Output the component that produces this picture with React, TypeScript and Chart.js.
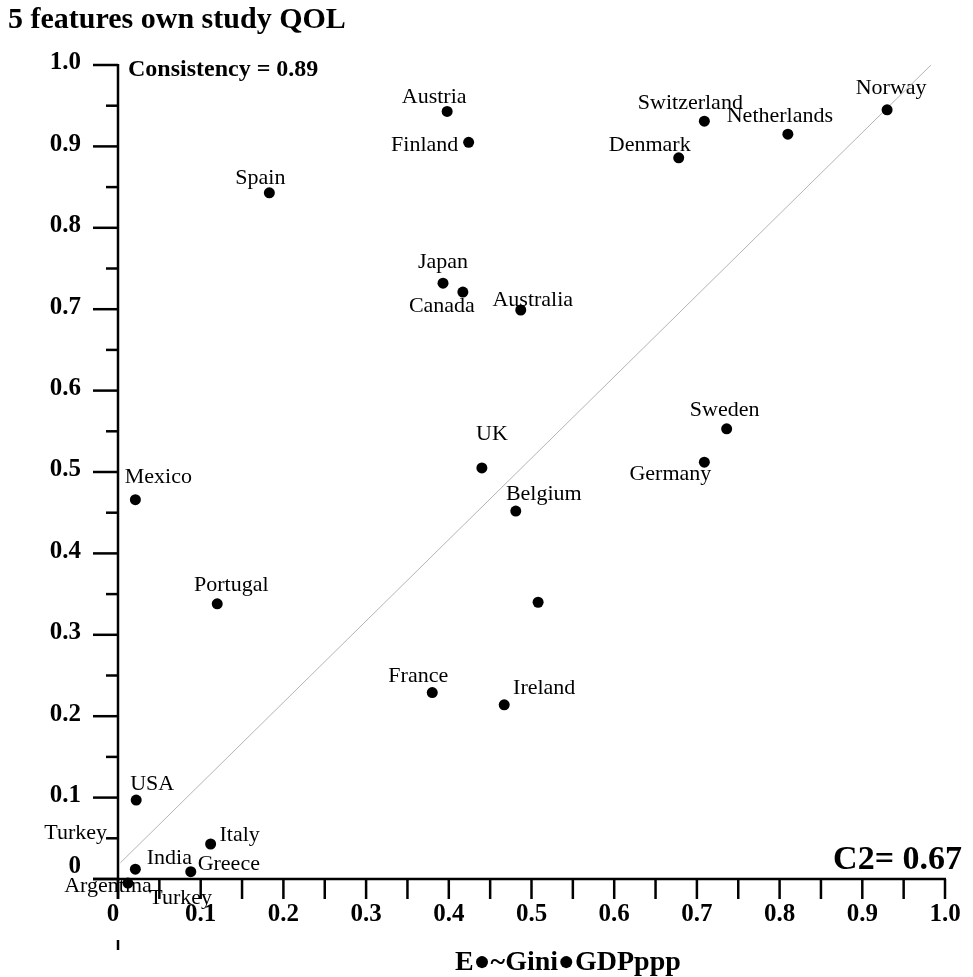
import { useEffect, useRef } from "react";
import { Chart, registerables } from "chart.js";

Chart.register(...registerables);

// ---- data ----
const countries = [
  "Norway", "Netherlands", "Switzerland", "Denmark", "Austria", "Finland", "Spain",
  "Japan", "Canada", "Australia", "Sweden", "Germany", "UK", "Belgium", "",
  "Mexico", "Portugal", "France", "Ireland", "USA", "Italy", "India", "Greece",
  "Argentina", "Turkey",
];
const xValues = [
  0.930, 0.810, 0.709, 0.678, 0.398, 0.424, 0.183,
  0.393, 0.417, 0.487, 0.736, 0.709, 0.440, 0.481, 0.508,
  0.021, 0.120, 0.380, 0.467, 0.022, 0.112, 0.021, 0.088,
  0.012, 0.025,
];
const yValues = [
  0.945, 0.915, 0.931, 0.886, 0.943, 0.905, 0.843,
  0.732, 0.721, 0.699, 0.553, 0.512, 0.505, 0.452, 0.340,
  0.466, 0.338, 0.229, 0.214, 0.097, 0.043, 0.012, 0.009,
  -0.005, -0.009,
];
const fitLineX = [0.003, 0.983];
const fitLineY = [0.02, 1.0];

const majorTicks = [0, 0.1, 0.2, 0.3, 0.4, 0.5, 0.6, 0.7, 0.8, 0.9, 1.0];
const majorTickLabels = ["0", "0.1", "0.2", "0.3", "0.4", "0.5", "0.6", "0.7", "0.8", "0.9", "1.0"];
const minorTicks = [0.05, 0.15, 0.25, 0.35, 0.45, 0.55, 0.65, 0.75, 0.85, 0.95];

const titleText = "5 features own study QOL";
const consistencyText = "Consistency = 0.89";
const c2Text = "C2= 0.67";
const xAxisTitle = "E\u25CF~Gini\u25CFGDPppp";

// label placement (pixel offsets of label centre from its point)
const labelOffsets: [number, number, number][] = [
  // [pointIndex, dx, dy]
  [0, 4, -22], [1, -8, -18], [2, -14, -18], [3, -29, -13], [4, -13, -14],
  [5, -44, 3], [6, -9, -15], [7, 0, -21], [8, -21, 14], [9, 12, -10],
  [10, -2, -19], [11, -34, 12], [12, 10, -34], [13, 28, -17],
  [15, 23, -22], [16, 14, -19], [17, -14, -16], [18, 40, -17], [19, 16, -16],
  [20, 29, -9], [21, 34, -11], [22, 38, -7], [23, -20, 3], [24, 42, 12],
  [24, -63, -53],
];

const SERIF = '"Liberation Serif", "Times New Roman", serif';

const overlayPlugin = {
  id: "overlay",
  beforeDatasetsDraw(chart: any) {
    const ctx: CanvasRenderingContext2D = chart.ctx;
    const xs = chart.scales.x;
    const ys = chart.scales.y;
    const x0 = xs.getPixelForValue(0);
    const x1 = xs.getPixelForValue(1);
    const y0 = ys.getPixelForValue(0);
    const y1 = ys.getPixelForValue(1);
    const line = (ax: number, ay: number, bx: number, by: number) => {
      ctx.beginPath();
      ctx.moveTo(ax, ay);
      ctx.lineTo(bx, by);
      ctx.stroke();
    };
    ctx.save();
    ctx.strokeStyle = "#000";
    ctx.lineWidth = 2.5;
    ctx.lineCap = "butt";
    // axes
    line(x0, y1 - 1, x0, y0 + 20);
    line(x0 - 25, y0, x1 + 1, y0);
    line(x0, y0 + 61, x0, y0 + 71);
    // y ticks
    majorTicks.forEach((v) => {
      const y = ys.getPixelForValue(v);
      line(x0 - 25, y, x0, y);
    });
    minorTicks.forEach((v) => {
      const y = ys.getPixelForValue(v);
      line(x0 - 12, y, x0, y);
    });
    // x ticks
    [...majorTicks, ...minorTicks].forEach((v) => {
      const x = xs.getPixelForValue(v);
      line(x, y0, x, y0 + 20);
    });

    // tick labels
    ctx.fillStyle = "#000";
    ctx.font = `bold 25px ${SERIF}`;
    ctx.textBaseline = "middle";
    ctx.textAlign = "right";
    majorTicks.forEach((v, i) => {
      const y = ys.getPixelForValue(v);
      ctx.fillText(majorTickLabels[i], 81, v === 0 ? y - 12 : y - 2);
    });
    ctx.textAlign = "center";
    majorTicks.forEach((v, i) => {
      const x = xs.getPixelForValue(v);
      ctx.fillText(majorTickLabels[i], v === 0 ? x - 5 : x, y0 + 36);
    });

    // titles
    ctx.textBaseline = "alphabetic";
    ctx.textAlign = "left";
    ctx.font = `bold 30px ${SERIF}`;
    ctx.fillText(titleText, 8, 28);
    ctx.font = `bold 24px ${SERIF}`;
    ctx.fillText(consistencyText, x0 + 10, 76);
    ctx.textAlign = "right";
    ctx.font = `bold 34px ${SERIF}`;
    ctx.fillText(c2Text, 962, 869);
    ctx.textAlign = "left";
    ctx.font = `bold 28px ${SERIF}`;
    ctx.fillText(xAxisTitle, 455, 970);

    // point labels
    ctx.font = `22px ${SERIF}`;
    ctx.textAlign = "center";
    ctx.textBaseline = "middle";
    labelOffsets.forEach(([i, dx, dy]) => {
      const px = xs.getPixelForValue(xValues[i]);
      const py = ys.getPixelForValue(yValues[i]);
      ctx.fillText(countries[i], px + dx, py + dy);
    });
    ctx.restore();
  },
};

export default function App() {
  const canvasRef = useRef<HTMLCanvasElement | null>(null);
  useEffect(() => {
    const canvas = canvasRef.current;
    if (!canvas) return;
    const chart = new Chart(canvas, {
      type: "scatter",
      data: {
        datasets: [
          {
            type: "line",
            data: fitLineX.map((x, i) => ({ x, y: fitLineY[i] })),
            borderColor: "#b4b4b4",
            borderWidth: 1,
            pointRadius: 0,
            fill: false,
            order: 2,
          } as any,
          {
            data: xValues.map((x, i) => ({ x, y: yValues[i] })),
            backgroundColor: "#000",
            borderWidth: 0,
            pointRadius: 5.5,
            clip: false,
            order: 1,
          } as any,
        ],
      },
      options: {
        responsive: false,
        animation: false,
        devicePixelRatio: 1,
        layout: { padding: { left: 118, right: 28, top: 65, bottom: 98 } },
        scales: {
          x: { type: "linear", min: 0, max: 1, display: false },
          y: { type: "linear", min: 0, max: 1, display: false },
        },
        plugins: { legend: { display: false }, tooltip: { enabled: false } },
      },
      plugins: [overlayPlugin],
    });
    return () => chart.destroy();
  }, []);
  return (
    <div style={{ position: "absolute", left: 0, top: 0, width: 973, height: 977, background: "#fff" }}>
      <canvas ref={canvasRef} width={973} height={977} />
    </div>
  );
}
